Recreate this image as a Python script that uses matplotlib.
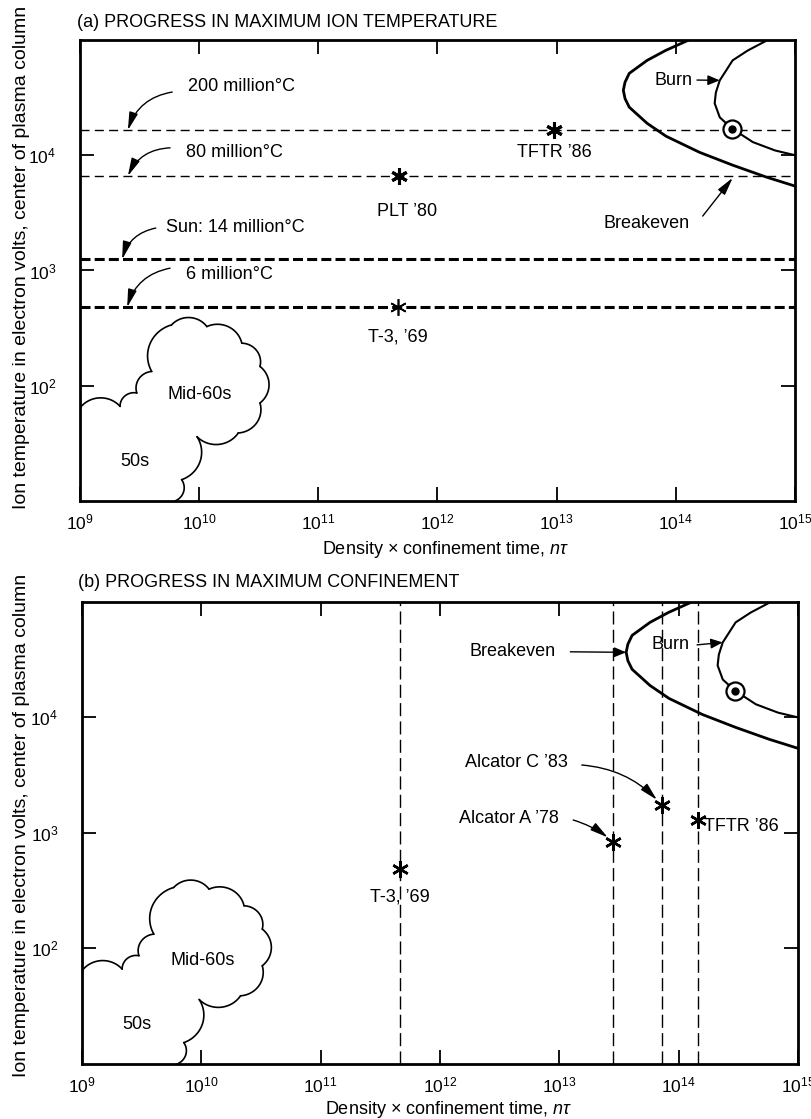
import numpy as np
import matplotlib
matplotlib.use('Agg')
import matplotlib.pyplot as plt

plt.rcParams['font.family'] = ['Liberation Sans', 'DejaVu Sans']
plt.rcParams['mathtext.fontset'] = 'custom'
plt.rcParams['mathtext.rm'] = 'Liberation Sans'
plt.rcParams['mathtext.it'] = 'Liberation Sans:italic'
plt.rcParams['lines.scale_dashes'] = False

# ---------------- data ----------------
x_ticks = [1e9, 1e10, 1e11, 1e12, 1e13, 1e14, 1e15]
x_ticklabels = [r'$10^{9}$', r'$10^{10}$', r'$10^{11}$', r'$10^{12}$',
                r'$10^{13}$', r'$10^{14}$', r'$10^{15}$']
y_ticks = [1e2, 1e3, 1e4]
y_ticklabels = [r'$10^{2}$', r'$10^{3}$', r'$10^{4}$']

# reference temperatures (eV)
temp_levels = [1.65e4, 6.6e3, 1.25e3, 4.8e2]
temp_labels = ['200 million°C', '80 million°C', 'Sun: 14 million°C', '6 million°C']

# panel (a) record temperatures
temp_names = ["TFTR \u201986", "PLT \u201980", "T-3, \u201969"]
temp_ntau = [9.5e12, 4.8e11, 4.7e11]
temp_T = [1.65e4, 6.6e3, 4.8e2]

# panel (b) record confinement
conf_names = ["T-3, \u201969", "Alcator A \u201978", "Alcator C \u201983", "TFTR \u201986"]
conf_ntau = [4.6e11, 2.83e13, 7.2e13, 1.45e14]
conf_T = [4.9e2, 8.4e2, 1.75e3, 1.3e3]

# breakeven and burn (ignition) boundaries
breakeven_ntau = [1.29e14, 8.2e13, 5.75e13, 4.07e13, 3.75e13, 3.63e13, 3.75e13, 4.07e13,
                  5.75e13, 8.3e13, 1.58e14, 3.0e14, 5.75e14, 1.0e15]
breakeven_T = [1.0e5, 8.1e4, 6.65e4, 5.13e4, 4.3e4, 3.66e4, 3.1e4, 2.61e4,
               1.89e4, 1.46e4, 1.06e4, 8.2e3, 6.46e3, 5.4e3]
burn_ntau = [5.92e14, 4.02e14, 3.0e14, 2.34e14, 2.17e14, 2.12e14, 2.34e14, 2.95e14,
             4.43e14, 6.8e14, 1.0e15]
burn_T = [1.0e5, 8.1e4, 6.65e4, 4.46e4, 3.5e4, 2.82e4, 2.13e4, 1.71e4,
          1.30e4, 1.10e4, 1.0e4]
ignition_ntau = 2.95e14
ignition_T = 1.68e4

# historical "clouds" (cusp points of outlines)
mid60s_ntau = [3.0e9, 4.0e9, 5.87e9, 1.16e10, 2.28e10, 3.24e10, 3.24e10, 2.13e10, 9.6e9]
mid60s_T = [86.5, 133, 337, 326, 234, 147, 70.8, 38.9, 36.1]
fifties_top_ntau = [1.0e9, 2.17e9, 3.0e9]
fifties_top_T = [64.1, 66.2, 86.5]
fifties_side_ntau = [9.6e9, 7.13e9, 6.27e9]
fifties_side_T = [36.1, 15.3, 10.0]


# ---------------- helpers ----------------
def draw_lobes(ax, xs, ys, k=0.24, lw=1.2):
    lx = np.log10(xs)
    ly = np.log10(ys)
    for i in range(len(lx) - 1):
        p0 = np.array([lx[i], ly[i]])
        p1 = np.array([lx[i + 1], ly[i + 1]])
        d = p1 - p0
        c = np.hypot(d[0], d[1])
        nrm = np.array([-d[1], d[0]]) / c
        s = k * c
        R = (c * c / 4 + s * s) / (2 * s)
        center = (p0 + p1) / 2 - nrm * (R - s)
        th = np.arcsin(min(1.0, c / (2 * R)))
        phi = np.arctan2(nrm[1], nrm[0])
        t = np.linspace(th, -th, 40)
        px = center[0] + R * np.cos(phi + t)
        py = center[1] + R * np.sin(phi + t)
        ax.plot(10 ** px, 10 ** py, color='black', lw=lw, solid_capstyle='round')


def setup_axes(ax):
    ax.set_xscale('log')
    ax.set_yscale('log')
    ax.set_xlim(1e9, 1e15)
    ax.set_ylim(1e1, 1e5)
    ax.set_xticks(x_ticks)
    ax.set_xticklabels(x_ticklabels)
    ax.set_yticks(y_ticks)
    ax.set_yticklabels(y_ticklabels)
    ax.minorticks_off()
    ax.tick_params(direction='in', length=10, width=1.3, top=True, right=True,
                   labelsize=12.5, color='black')
    ax.tick_params(axis='x', pad=8)
    ax.tick_params(axis='y', pad=17)
    for sp in ax.spines.values():
        sp.set_linewidth(2.0)
    ax.set_xlabel(r'Density $\times$ confinement time, $n\tau$', fontsize=13)
    ax.set_ylabel('Ion temperature in electron volts, center of plasma column', fontsize=14)


def draw_common(ax, mid_T=83):
    ax.plot(breakeven_ntau, breakeven_T, color='black', lw=2.0, zorder=3)
    ax.plot(burn_ntau, burn_T, color='black', lw=1.5, zorder=3)
    ax.plot([ignition_ntau], [ignition_T], 'o', ms=13, mfc='white', mec='black', mew=1.6, zorder=5)
    ax.plot([ignition_ntau], [ignition_T], 'o', ms=5, color='black', zorder=6)
    draw_lobes(ax, mid60s_ntau, mid60s_T)
    draw_lobes(ax, fifties_top_ntau, fifties_top_T)
    draw_lobes(ax, fifties_side_ntau, fifties_side_T)
    ax.text(1.02e10, mid_T, 'Mid-60s', fontsize=13, ha='center', va='center')
    ax.text(2.9e9, 22, '50s', fontsize=13, ha='center', va='center')


asterisk = (6, 2, 0)
head = '-|>,head_length=0.9,head_width=0.22'
small_head = '-|>,head_length=0.6,head_width=0.25'


def arrow(ax, xy, xycoords, xytext, rad=0.0, style=head, shrinkB=0):
    ax.annotate('', xy=xy, xycoords=xycoords, xytext=xytext, textcoords='axes fraction',
                arrowprops=dict(arrowstyle=style, color='black', lw=1.0, shrinkA=0,
                                shrinkB=shrinkB, mutation_scale=12,
                                connectionstyle='arc3,rad=%g' % rad))


fig = plt.figure(figsize=(8.11, 11.19), dpi=100)
axa = fig.add_axes([0.0986, 0.5523, 0.8816, 0.4120])
axb = fig.add_axes([0.1011, 0.0492, 0.8829, 0.4129])

# ---------------- panel (a) ----------------
setup_axes(axa)
draw_common(axa, mid_T=84)
styles = [(1.0, (6.5, 3.8)), (1.0, (6.5, 3.8)), (2.2, (7.2, 3.0)), (2.2, (7.2, 3.0))]
for lev, (lw, dash) in zip(temp_levels, styles):
    axa.axhline(lev, color='black', lw=lw, dashes=dash, zorder=2)

label_pos = [(0.151, 0.900), (0.148, 0.755), (0.120, 0.594), (0.148, 0.492)]
arrow_start = [(0.129, 0.887), (0.126, 0.766), (0.106, 0.592), (0.126, 0.505)]
arrow_endx = [0.067, 0.067, 0.059, 0.066]
for lab, lev, tp, st, ex in zip(temp_labels, temp_levels, label_pos, arrow_start, arrow_endx):
    axa.text(tp[0], tp[1], lab, transform=axa.transAxes, fontsize=13, ha='left', va='center')
    arrow(axa, (ex, lev), ('axes fraction', 'data'), st, rad=0.3)

mews = [2.2, 2.2, 1.2]
for n, x, y, mw in zip(temp_names, temp_ntau, temp_T, mews):
    axa.plot([x], [y], marker=asterisk, ms=12, mew=mw, color='black', ls='none', zorder=4)
tl_pos = [(0.664, 0.755), (0.457, 0.627), (0.445, 0.356)]
for n, p in zip(temp_names, tl_pos):
    axa.text(p[0], p[1], n, transform=axa.transAxes, fontsize=13, ha='center', va='center')

axa.text(0.857, 0.913, 'Burn', transform=axa.transAxes, fontsize=13, ha='right', va='center')
arrow(axa, (burn_ntau[3], burn_T[3]), 'data', (0.863, 0.913), style=small_head)
axa.text(0.792, 0.601, 'Breakeven', transform=axa.transAxes, fontsize=13, ha='center', va='center')
arrow(axa, (0.913, 0.701), 'axes fraction', (0.871, 0.618))

# ---------------- panel (b) ----------------
setup_axes(axb)
draw_common(axb, mid_T=79)
for x in conf_ntau:
    axb.axvline(x, color='black', lw=1.0, dashes=(9.4, 3.8), zorder=2)
for x, y in zip(conf_ntau, conf_T):
    axb.plot([x], [y], marker=asterisk, ms=12, mew=1.8, color='black', ls='none', zorder=4)

axb.text(0.444, 0.361, conf_names[0], transform=axb.transAxes, fontsize=13, ha='center', va='center')
axb.text(0.666, 0.532, conf_names[1], transform=axb.transAxes, fontsize=13, ha='right', va='center')
arrow(axb, (conf_ntau[1], conf_T[1]), 'data', (0.686, 0.528), rad=-0.1, shrinkB=5)
axb.text(0.679, 0.652, conf_names[2], transform=axb.transAxes, fontsize=13, ha='right', va='center')
arrow(axb, (conf_ntau[2], conf_T[2]), 'data', (0.698, 0.647), rad=-0.2, shrinkB=5)
axb.text(0.869, 0.513, conf_names[3], transform=axb.transAxes, fontsize=13, ha='left', va='center')

axb.text(0.661, 0.892, 'Breakeven', transform=axb.transAxes, fontsize=13, ha='right', va='center')
nose = int(np.argmin(breakeven_ntau))
arrow(axb, (breakeven_ntau[nose], breakeven_T[nose]), 'data', (0.682, 0.892), style=small_head)
axb.text(0.849, 0.907, 'Burn', transform=axb.transAxes, fontsize=13, ha='right', va='center')
arrow(axb, (burn_ntau[3], burn_T[3]), 'data', (0.859, 0.907), style=small_head)

# axis label placement
axa.yaxis.set_label_coords(-0.070, 0.529)
axb.yaxis.set_label_coords(-0.072, 0.517)
axa.xaxis.set_label_coords(0.512, -0.083)
axb.xaxis.set_label_coords(0.512, -0.076)

fig.text(0.095, 0.980, '(a) PROGRESS IN MAXIMUM ION TEMPERATURE', fontsize=13, ha='left', va='center')
fig.text(0.096, 0.479, '(b) PROGRESS IN MAXIMUM CONFINEMENT', fontsize=13, ha='left', va='center')

fig.savefig('out.png', dpi=100, facecolor='white')
